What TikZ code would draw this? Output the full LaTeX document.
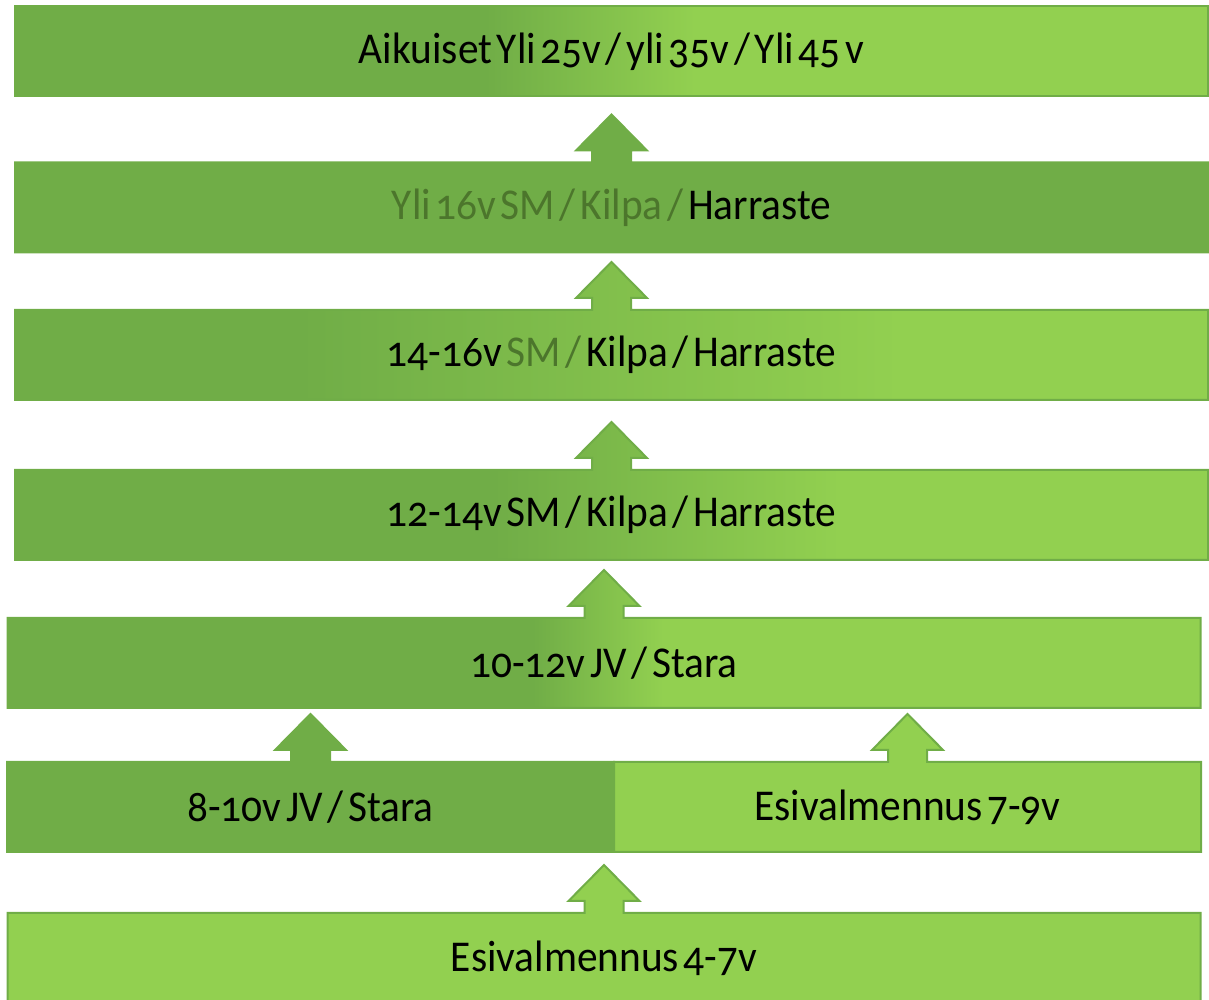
\documentclass[tikz,border=0pt]{standalone}
\usepackage{fontspec}
\setmainfont{Carlito}[Numbers=OldStyle, FakeStretch=0.94, WordSpace=0.5]
\usepackage{xcolor}
\usetikzlibrary{positioning, backgrounds}

\definecolor{gdark}{RGB}{112,173,71}
\definecolor{glight}{RGB}{146,208,80}
\definecolor{txtg}{RGB}{76,118,44}

\pgfdeclarehorizontalshading{fadeTop}{100bp}{color(0bp)=(gdark); color(44.7bp)=(gdark); color(53.5bp)=(glight); color(100bp)=(glight)}
\pgfdeclarehorizontalshading{fadeMid}{100bp}{color(0bp)=(gdark); color(36.9bp)=(gdark); color(62.1bp)=(glight); color(100bp)=(glight)}
\pgfdeclarehorizontalshading{fadeLow}{100bp}{color(0bp)=(gdark); color(45bp)=(gdark); color(59.6bp)=(glight); color(100bp)=(glight)}
\pgfdeclarehorizontalshading{fadeJV}{100bp}{color(0bp)=(gdark); color(47bp)=(gdark); color(52.5bp)=(glight); color(100bp)=(glight)}

% bar outline with a block arrow on its top edge
\newcommand{\arrowbar}[2]{%
  \draw[#2] (#1.south west) -- (#1.north west)
    -- ([xshift=-9.75pt]#1.north) -- ([xshift=-9.75pt, yshift=6pt]#1.north)
    -- ([xshift=-17.75pt, yshift=6pt]#1.north) -- ([yshift=24pt]#1.north)
    -- ([xshift=17.75pt, yshift=6pt]#1.north) -- ([xshift=9.75pt, yshift=6pt]#1.north)
    -- ([xshift=9.75pt]#1.north) -- (#1.north east) -- (#1.south east) -- cycle;}

\begin{document}
\begin{tikzpicture}[x=0.5pt, y=0.5pt, on grid,
    bar/.style={rectangle, minimum width=596.5pt, minimum height=45pt, inner sep=0pt, outer sep=0pt, font=\fontsize{22}{26}\selectfont},
    halfl/.style={bar, minimum width=303.5pt},
    halfr/.style={bar, minimum width=293.5pt},
    block/.style={draw=gdark, line width=1pt}]

    \useasboundingbox (0,0) rectangle (1209,1000);

    \node[bar] (b1) at (611.5,948.5) {Aikuiset Yli 25v / yli 35v / Yli 45 v};

    \node[bar, below=78pt of b1] (b2) {\color{txtg}Yli 16v SM / Kilpa / \color{black}Harraste};

    \node[bar, below=73.75pt of b2] (b3) {14-16v {\color{txtg}SM /} Kilpa / Harraste};

    \node[bar, below=80pt of b3] (b4) {12-14v SM / Kilpa / Harraste};

    \node[bar, below left=74pt and 3.75pt of b4] (b5) {10-12v JV / Stara};

    \node[halfl, below left=72pt and 146.75pt of b5] (b6a) {8-10v JV / Stara};

    \node[halfr, right=298.5pt of b6a] (b6b) {Esivalmennus 7-9v};

    \node[bar, below=147.5pt of b5] (b7) {Esivalmennus 4-7v};

    \begin{pgfonlayer}{background}
        \draw[block, shade, shading=fadeTop] (b1.south west) rectangle (b1.north east);
        \arrowbar{b2}{block, fill=gdark}
        \arrowbar{b3}{block, shade, shading=fadeMid}
        \arrowbar{b4}{block, shade, shading=fadeLow}
        \arrowbar{b5}{block, shade, shading=fadeJV}
        \arrowbar{b6a}{block, fill=gdark}
        \arrowbar{b6b}{block, fill=glight}
        \arrowbar{b7}{block, fill=glight}
    \end{pgfonlayer}

\end{tikzpicture}
\end{document}
